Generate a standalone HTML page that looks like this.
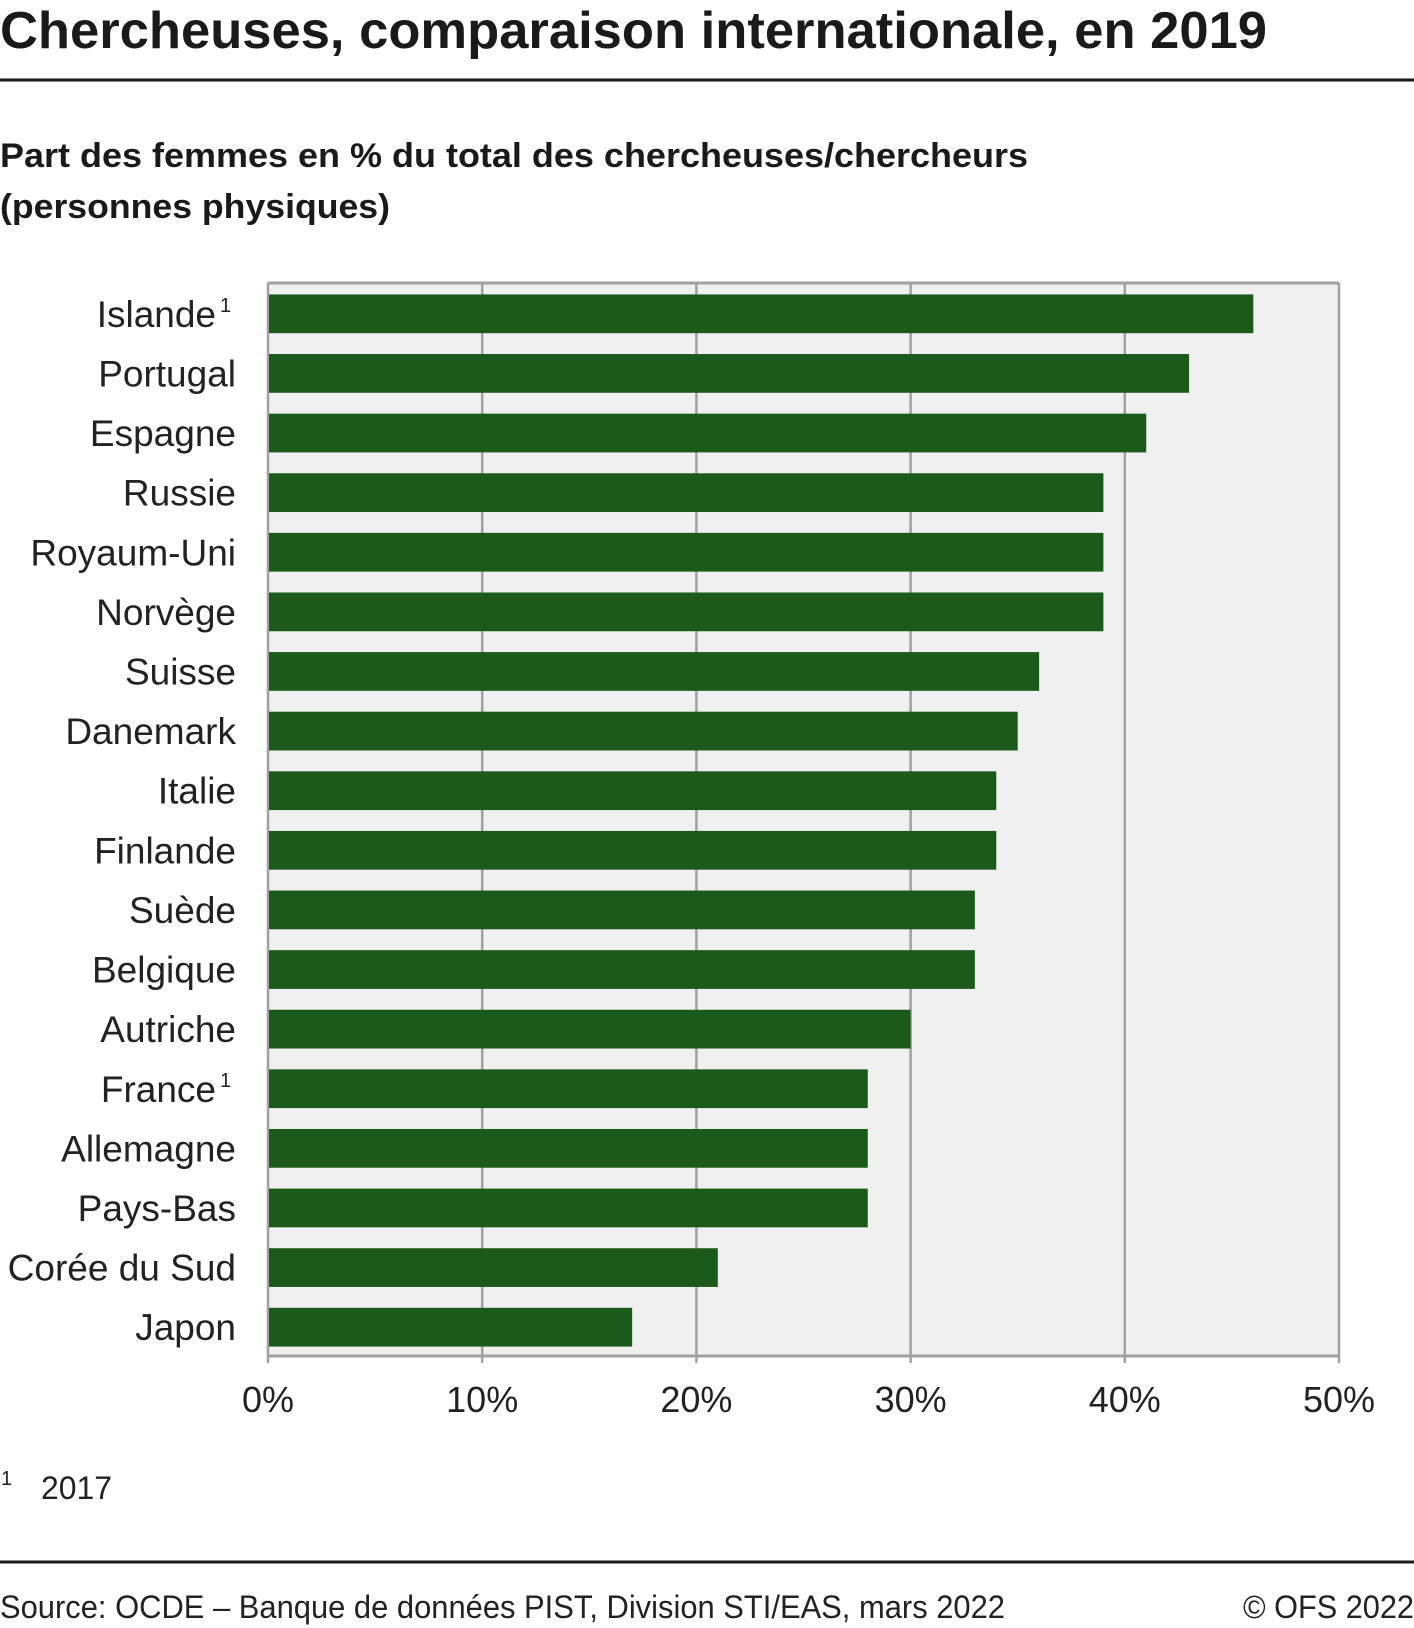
<!DOCTYPE html>
<html><head><meta charset="utf-8">
<style>
html,body{margin:0;padding:0;background:#fff;}
svg{display:block;font-family:"Liberation Sans",sans-serif;}
</style></head>
<body>
<svg id="chart" width="1414" height="1628" viewBox="0 0 1414 1628" xmlns="http://www.w3.org/2000/svg">
<text x="0" y="48" font-size="52" font-weight="bold" fill="#1a1a1a" textLength="1267" lengthAdjust="spacingAndGlyphs">Chercheuses, comparaison internationale, en 2019</text>
<rect x="0" y="78.5" width="1414" height="3" fill="#1a1a1a"/>
<text x="0" y="167" font-size="34" font-weight="bold" fill="#1a1a1a" textLength="1028" lengthAdjust="spacingAndGlyphs">Part des femmes en % du total des chercheuses/chercheurs</text>
<text x="0" y="218" font-size="34" font-weight="bold" fill="#1a1a1a" textLength="390" lengthAdjust="spacingAndGlyphs">(personnes physiques)</text>
<g id="plot"></g>
<text x="1" y="1485" font-size="20" fill="#222">1</text>
<text x="41" y="1499" font-size="32" fill="#222" textLength="71" lengthAdjust="spacingAndGlyphs">2017</text>
<rect x="0" y="1560.5" width="1414" height="3" fill="#1a1a1a"/>
<text x="0" y="1618" font-size="32" fill="#222" textLength="1005" lengthAdjust="spacingAndGlyphs">Source: OCDE – Banque de données PIST, Division STI/EAS, mars 2022</text>
<text x="1414" y="1618" font-size="32" fill="#222" text-anchor="end" textLength="171" lengthAdjust="spacingAndGlyphs">© OFS 2022</text>
</svg>
<script>
const categories = ["Islande","Portugal","Espagne","Russie","Royaum-Uni","Norvège","Suisse","Danemark","Italie","Finlande","Suède","Belgique","Autriche","France","Allemagne","Pays-Bas","Corée du Sud","Japon"];
const footnoted = [true,false,false,false,false,false,false,false,false,false,false,false,false,true,false,false,false,false];
const values = [46,43,41,39,39,39,36,35,34,34,33,33,30,28,28,28,21,17];
const tickValues = [0,10,20,30,40,50];
const tickLabels = ["0%","10%","20%","30%","40%","50%"];

const NS = "http://www.w3.org/2000/svg";
const L = 268, R = 1339, T = 283, B = 1356;
const xMax = 50;
const band = (B - T) / categories.length;
function xScale(v){ return L + (R - L) * v / xMax; }
function yBand(i){ return T + i * band; }
const g = document.getElementById('plot');
function mk(tag, attrs){ const e = document.createElementNS(NS, tag); for (const k in attrs) e.setAttribute(k, attrs[k]); g.appendChild(e); return e; }

let bg = mk('rect', {x:L, y:T, width:R-L, height:B-T, fill:'#f0f0f0'});



tickValues.forEach((t, i) => {
  const x = xScale(t);
  let gl = mk('line', {x1:x, x2:x, y1:T, y2:B+7, stroke:'#a0a0a0', 'stroke-width':2.5});
  
  
  let tl = mk('text', {x:x, y:1412, 'font-size':36, fill:'#222', 'text-anchor':'middle'});
  tl.textContent = tickLabels[i];
  
  
});
let topb = mk('line', {x1:L, x2:R, y1:T, y2:T, stroke:'#a0a0a0', 'stroke-width':3});


let axis = mk('line', {x1:L, x2:R, y1:B, y2:B, stroke:'#a0a0a0', 'stroke-width':3});



const barH = band * 0.65;
categories.forEach((c, i) => {
  const y0 = yBand(i) + (band - barH) / 2 + 1;
  let bar = mk('rect', {x:xScale(0)+1, y:y0, width:xScale(values[i]) - xScale(0) - 1, height:barH, fill:'#1b5a1b'});
  
  
  const cy = yBand(i) + band / 2 + 1;
  const rx = footnoted[i] ? 216 : 236;
  let lab = mk('text', {x:rx, y:cy + 13, 'font-size':37, fill:'#222', 'text-anchor':'end'});
  lab.textContent = c;
  
  
  if (footnoted[i]) {
    let sup = mk('text', {x:220, y:cy - 2, 'font-size':20, fill:'#222'});
    sup.textContent = '1';
    
    
  }
});
</script>
</body></html>
